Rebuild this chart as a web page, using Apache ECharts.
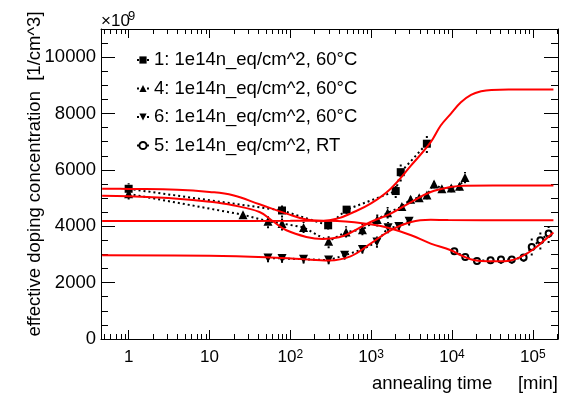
<!DOCTYPE html>
<html><head><meta charset="utf-8">
<script src="https://cdn.jsdelivr.net/npm/echarts@6/dist/echarts.min.js"></script>
<style>html,body{margin:0;padding:0;background:#fff}#c{width:565px;height:394px}</style>
</head><body><div id="c"></div>
<script>
// ---- data (annealing time in min, concentration in units of 1e9 /cm^3) ----
const seriesNames = ['1: 1e14n_eq/cm^2, 60°C', '4: 1e14n_eq/cm^2, 60°C', '6: 1e14n_eq/cm^2, 60°C', '5: 1e14n_eq/cm^2, RT'];

const time1 = [1, 79, 294, 497, 2014, 2323, 4890];
const conc1 = [5330, 4560, 4035, 4590, 5250, 5920, 6930];
const err1 = [200, 250, 150, 150, 250, 330, 330];

const time4 = [1, 26, 53, 79, 146, 298, 490, 780, 1190, 1600, 2400, 3080, 3930, 4900, 6000, 7500, 9800, 12400, 14500];
const conc4 = [5150, 4410, 4180, 4100, 3960, 3470, 3800, 3880, 4240, 4480, 4700, 4960, 5015, 5110, 5500, 5330, 5360, 5420, 5730];
const err4 = [200, 150, 250, 250, 200, 250, 200, 200, 250, 200, 150, 150, 150, 150, 150, 150, 150, 150, 200];

const time6 = [53, 79, 146, 298, 470, 780, 1180, 1620, 2200, 2950];
const conc6 = [2870, 2860, 2830, 2800, 2970, 3180, 3440, 3950, 3990, 4180];
const err6 = [150, 150, 150, 150, 150, 150, 200, 200, 150, 150];

const time5 = [10700, 14600, 20400, 30000, 40400, 55000, 77000, 97000, 124000, 157000];
const conc5 = [3115, 2913, 2772, 2796, 2820, 2820, 2892, 3267, 3504, 3740];
const err5 = [100, 100, 100, 100, 150, 150, 150, 300, 330, 330];

// fitted curves
const fitTime1 = [0.47, 1, 4, 10, 19.5, 41.6, 89.5, 158, 258, 400, 555, 984, 1745, 3124, 5460, 7260, 9660, 12900, 17200, 23000, 30700, 50000, 180000];
const fitConc1 = [5335, 5325, 5300, 5220, 5100, 4780, 4450, 4237, 4190, 4290, 4450, 4803, 5335, 6159, 6985, 7575, 7990, 8400, 8662, 8790, 8839, 8850, 8850];

const fitTime4 = [0.47, 1, 4, 10, 19.5, 41.6, 61, 89.5, 158, 250, 400, 555, 984, 1745, 3124, 5460, 9660, 14000, 180000];
const fitConc4 = [5085, 5065, 4980, 4870, 4743, 4506, 4177, 3858, 3622, 3550, 3610, 3770, 4152, 4450, 4861, 5215, 5390, 5440, 5450];

const fitTime6 = [0.47, 10, 50, 133, 300, 555, 984, 1745, 3124, 5460, 9000, 180000];
const fitConc6 = [2975, 2955, 2905, 2840, 2785, 2930, 3386, 3858, 4152, 4230, 4220, 4215];

const fitTime5 = [0.47, 10, 100, 312, 984, 1745, 3124, 5460, 9660, 12900, 19000, 27800, 49000, 71000, 105000, 155000, 180000];
const fitConc5 = [4190, 4190, 4192, 4195, 4070, 3918, 3681, 3386, 3150, 2973, 2796, 2761, 2772, 2913, 3210, 3622, 3780];

const xMajorTicks = [1, 10, 100, 1000, 10000, 100000];
const yTickLabels = ['0', '2000', '4000', '6000', '8000', '10000'];
const yAxisTitle = 'effective doping concentration  [1/cm^3]';
const xAxisTitle = 'annealing time     [min]';
const scaleText = '×10';
const scaleExp = '9';

// ---- chart ----
const FONT = '"Liberation Sans", Arial, Helvetica, sans-serif';
const X_MIN = 0.455, X_MAX = 205000;
const xMinorTicks = [];
for (const d of [0.1, 1, 10, 100, 1000, 10000, 100000]) for (let k = 2; k <= 9; k++) xMinorTicks.push(d * k);

const zip = (a, b) => a.map((v, i) => [v, b[i]]);
const triDown = 'path://M0,0L10,0L5,9Z';

function xAxisBase(pos, extra) {
  return Object.assign({
    type: 'log', position: pos, min: X_MIN, max: X_MAX, gridIndex: 0,
    axisLine: { show: true, lineStyle: { color: '#000', width: 1 } },
    splitLine: { show: false }, minorSplitLine: { show: false },
    axisLabel: { show: false }
  }, extra);
}
function yAxisBase(pos, extra) {
  return Object.assign({
    type: 'value', position: pos, min: 0, max: 11000, interval: 2000,
    axisLine: { show: true, lineStyle: { color: '#000', width: 1 } },
    axisTick: { show: true, inside: true, length: 14, lineStyle: { color: '#000' } },
    minorTick: { show: true, splitNumber: 4, length: 7, lineStyle: { color: '#000' } },
    splitLine: { show: false }, minorSplitLine: { show: false },
    axisLabel: { show: false }
  }, extra);
}

function errorSeries(times, concs, errs) {
  return {
    type: 'custom', silent: true, z: 2,
    data: times.map((t, i) => [t, concs[i] - errs[i], concs[i] + errs[i]]),
    encode: { x: 0, y: [1, 2] },
    renderItem: function (params, api) {
      const lo = api.coord([api.value(0), api.value(1)]);
      const hi = api.coord([api.value(0), api.value(2)]);
      return {
        type: 'line',
        shape: { x1: lo[0], y1: lo[1], x2: hi[0], y2: hi[1] },
        style: { stroke: '#000', lineWidth: 2, lineDash: [2, 3] }
      };
    }
  };
}

const chart = echarts.init(document.getElementById('c'), null, { renderer: 'canvas' });
const lineStyleData = { color: '#000', width: 2, type: [2, 3] };
const option = {
  animation: false,
  backgroundColor: '#fff',
  grid: { left: 101, right: 7, top: 29, bottom: 55, containLabel: false, outerBoundsMode: 'none' },
  xAxis: [
    xAxisBase('bottom', {
      axisTick: { show: true, inside: true, length: 9, lineStyle: { color: '#000' } },
      axisLabel: {
        show: true, margin: 10, color: '#000', fontFamily: FONT, fontSize: 17,
        formatter: function (v) {
          const l = Math.log10(v), e = Math.round(l);
          if (Math.abs(l - e) > 1e-6 || xMajorTicks.indexOf(Math.pow(10, e)) < 0) return '';
          if (e === 0) return '1';
          if (e === 1) return '10';
          return '10{s|' + e + '}';
        },
        rich: { s: { fontSize: 12, fontFamily: FONT, color: '#000', verticalAlign: 'top', lineHeight: 12 } }
      }
    }),
    xAxisBase('bottom', { axisLine: { show: false }, axisTick: { show: true, inside: true, length: 5, customValues: xMinorTicks, lineStyle: { color: '#000' } } }),
    xAxisBase('top', { axisTick: { show: true, inside: true, length: 9, lineStyle: { color: '#000' } } }),
    xAxisBase('top', { axisLine: { show: false }, axisTick: { show: true, inside: true, length: 5, customValues: xMinorTicks, lineStyle: { color: '#000' } } })
  ],
  yAxis: [
    yAxisBase('left', {
      axisLabel: {
        show: true, margin: 5, color: '#000', fontFamily: FONT, fontSize: 18.5, showMaxLabel: false,
        formatter: function (v) { const i = Math.round(v / 2000); return (v % 2000 === 0 && i < yTickLabels.length) ? yTickLabels[i] : ''; }
      }
    }),
    yAxisBase('right', {})
  ],
  legend: {
    orient: 'vertical', left: 131, top: 45.5, itemWidth: 12, itemHeight: 9, itemGap: 9.5,
    textStyle: { fontFamily: FONT, fontSize: 18.5, color: '#000' },
    data: seriesNames
  },
  graphic: [
    { type: 'text', x: 101, y: 21, style: { text: scaleText, fontFamily: FONT, fontSize: 17, fill: '#000', align: 'left', verticalAlign: 'middle' } },
    { type: 'text', x: 128, y: 16.5, style: { text: scaleExp, fontFamily: FONT, fontSize: 13, fill: '#000', align: 'left', verticalAlign: 'middle' } },
    { type: 'text', x: 35, y: 174, rotation: Math.PI / 2, style: { text: yAxisTitle, fontFamily: FONT, fontSize: 18.5, fill: '#000', align: 'center', verticalAlign: 'middle' } },
    { type: 'text', x: 558, y: 383.5, style: { text: xAxisTitle, fontFamily: FONT, fontSize: 18.5, fill: '#000', align: 'right', verticalAlign: 'middle' } }
  ],
  series: [
    { name: seriesNames[0], type: 'line', data: zip(time1, conc1), symbol: 'rect', symbolSize: 8, itemStyle: { color: '#000' }, lineStyle: lineStyleData, z: 3 },
    { name: seriesNames[1], type: 'line', data: zip(time4, conc4), symbol: 'triangle', symbolSize: 9, itemStyle: { color: '#000' }, lineStyle: lineStyleData, z: 3 },
    { name: seriesNames[2], type: 'line', data: zip(time6, conc6), symbol: triDown, symbolSize: 9, itemStyle: { color: '#000' }, lineStyle: lineStyleData, z: 3 },
    { name: seriesNames[3], type: 'line', data: zip(time5, conc5), symbol: 'emptyCircle', symbolSize: 6, itemStyle: { color: '#000', borderWidth: 1 }, lineStyle: lineStyleData, z: 3 },
    errorSeries(time1, conc1, err1),
    errorSeries(time4, conc4, err4),
    errorSeries(time6, conc6, err6),
    errorSeries(time5, conc5, err5),
    { name: 'fit1', type: 'line', data: zip(fitTime1, fitConc1), smooth: 0.4, showSymbol: false, symbol: 'none', lineStyle: { color: '#ff0000', width: 2 }, z: 4 },
    { name: 'fit4', type: 'line', data: zip(fitTime4, fitConc4), smooth: 0.4, showSymbol: false, symbol: 'none', lineStyle: { color: '#ff0000', width: 2 }, z: 4 },
    { name: 'fit6', type: 'line', data: zip(fitTime6, fitConc6), smooth: 0.4, showSymbol: false, symbol: 'none', lineStyle: { color: '#ff0000', width: 2 }, z: 4 },
    { name: 'fit5', type: 'line', data: zip(fitTime5, fitConc5), smooth: 0.4, showSymbol: false, symbol: 'none', lineStyle: { color: '#ff0000', width: 2 }, z: 4 }
  ]
};
chart.setOption(option);
</script>
</body></html>
